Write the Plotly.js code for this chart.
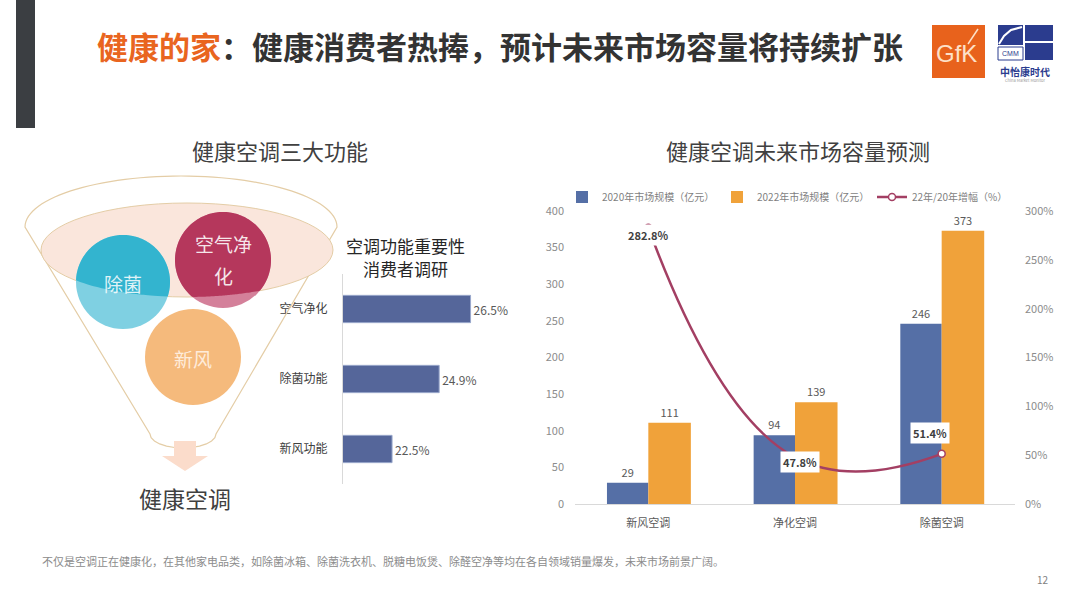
<!DOCTYPE html>
<html>
<head>
<meta charset="utf-8">
<script src="https://cdn.plot.ly/plotly-3.0.1.min.js"></script>
<style>
  html, body { margin: 0; padding: 0; background: #ffffff; }
  #chart { width: 1080px; height: 608px; }
</style>
</head>
<body>
<div id="chart"></div>
<script>
// ---------- data ----------
const surveyCats = ['空气净化', '除菌功能', '新风功能'];
const surveyVals = [26.5, 24.9, 22.5];

const marketCats = ['新风空调', '净化空调', '除菌空调'];
const size2020 = [29, 94, 246];
const size2022 = [111, 139, 373];
const growthPct = [282.8, 47.8, 51.4];

const seriesNames = ['2020年市场规模（亿元）', '2022年市场规模（亿元）', '22年/20年增幅（%）'];
const yLeftTicks = [0, 50, 100, 150, 200, 250, 300, 350, 400];
const yRightTicks = [0, 50, 100, 150, 200, 250, 300];
const yRightTickText = ['0%', '50%', '100%', '150%', '200%', '250%', '300%'];

// ---------- helpers (pixel -> paper) ----------
const W = 1080, H = 608;
const X = p => p / W;
const Y = p => 1 - p / H;
const FONT = '"Noto Sans CJK SC", "Noto Sans", sans-serif';

function pathFrom(points, close) {
  let s = '';
  points.forEach((p, i) => { s += (i === 0 ? 'M' : 'L') + X(p[0]).toFixed(5) + ',' + Y(p[1]).toFixed(5); });
  return s + (close ? 'Z' : '');
}

// funnel geometry (decoration)
const outer = { cx: 181, cy: 227, rx: 156, ry: 51 };
const rim = { cx: 187, cy: 250, rx: 146, ry: 47 };
const bubbles = [
  { cx: 123, cy: 282, r: 47, light: '#7fd0e2', dark: '#33b4cf', label: ['除菌'], txt: 'rgba(255,255,255,0.85)' },
  { cx: 223, cy: 260, r: 48, light: '#d4809a', dark: '#b5375c', label: ['空气净', '化'], txt: 'rgba(255,255,255,0.88)' },
  { cx: 193, cy: 357, r: 48, light: '#f5ba7c', dark: null, label: ['新风'], txt: 'rgba(255,240,225,0.95)' }
];

function intersectionPoly(b, e) {
  const pts = [];
  for (let i = 0; i < 180; i++) {
    const t = i / 180 * Math.PI * 2;
    const dx = Math.cos(t), dy = Math.sin(t);
    const px = b.cx - e.cx, py = b.cy - e.cy;
    const a = (dx / e.rx) ** 2 + (dy / e.ry) ** 2;
    const bb = 2 * (px * dx / (e.rx * e.rx) + py * dy / (e.ry * e.ry));
    const c = (px / e.rx) ** 2 + (py / e.ry) ** 2 - 1;
    const tt = (-bb + Math.sqrt(bb * bb - 4 * a * c)) / (2 * a);
    const r = Math.min(b.r, tt);
    pts.push([b.cx + r * dx, b.cy + r * dy]);
  }
  return pts;
}

const shapes = [];
// left dark bar
shapes.push({ type: 'rect', xref: 'paper', yref: 'paper', x0: X(16), x1: X(35), y0: Y(0), y1: Y(128),
  fillcolor: '#3b3e42', line: { width: 0 } });

// funnel outline
(function () {
  const pts = [];
  for (let i = 0; i <= 60; i++) {
    const t = Math.PI - i / 60 * Math.PI;
    pts.push([outer.cx + outer.rx * Math.cos(t), outer.cy - outer.ry * Math.sin(t)]);
  }
  pts.push([216, 434]);
  for (let i = 1; i < 12; i++) {
    const t = i / 12 * Math.PI;
    pts.push([183 + 33 * Math.cos(t), 434 + 14 * Math.sin(t)]);
  }
  pts.push([150, 434]);
  shapes.push({ type: 'path', xref: 'paper', yref: 'paper', path: pathFrom(pts, true),
    fillcolor: 'rgba(0,0,0,0)', line: { color: '#e4cda6', width: 1.2 } });
})();
// rim ellipse
shapes.push({ type: 'circle', xref: 'paper', yref: 'paper',
  x0: X(rim.cx - rim.rx), x1: X(rim.cx + rim.rx), y0: Y(rim.cy + rim.ry), y1: Y(rim.cy - rim.ry),
  fillcolor: '#fae6dc', line: { color: '#e4cda6', width: 1 } });
// bubbles
bubbles.forEach(b => {
  shapes.push({ type: 'circle', xref: 'paper', yref: 'paper',
    x0: X(b.cx - b.r), x1: X(b.cx + b.r), y0: Y(b.cy + b.r), y1: Y(b.cy - b.r),
    fillcolor: b.light, line: { width: 0 } });
  if (b.dark) {
    shapes.push({ type: 'path', xref: 'paper', yref: 'paper', path: pathFrom(intersectionPoly(b, rim), true),
      fillcolor: b.dark, line: { width: 0 } });
  }
});
// arrow
shapes.push({ type: 'path', xref: 'paper', yref: 'paper',
  path: pathFrom([[174, 441], [196, 441], [196, 456], [208, 456], [185, 471], [162, 456], [174, 456]], true),
  fillcolor: '#fbdccb', line: { width: 0 } });

// logos
shapes.push({ type: 'rect', xref: 'paper', yref: 'paper', x0: X(932), x1: X(985), y0: Y(78), y1: Y(25),
  fillcolor: '#e8621c', line: { width: 0 } });
shapes.push({ type: 'path', xref: 'paper', yref: 'paper',
  path: pathFrom([[968, 44], [978, 29]], false), line: { color: '#fde0c8', width: 1.5 } });
shapes.push({ type: 'rect', xref: 'paper', yref: 'paper', x0: X(998), x1: X(1023), y0: Y(45), y1: Y(25),
  fillcolor: '#2b3c8e', line: { width: 0 } });
shapes.push({ type: 'path', xref: 'paper', yref: 'paper',
  path: pathFrom([[999, 44], [1004, 36], [1011, 30], [1022, 27]], false), line: { color: '#ffffff', width: 2 } });
shapes.push({ type: 'rect', xref: 'paper', yref: 'paper', x0: X(1025), x1: X(1053), y0: Y(41), y1: Y(25),
  fillcolor: '#2b3c8e', line: { width: 0 } });
shapes.push({ type: 'rect', xref: 'paper', yref: 'paper', x0: X(1025), x1: X(1053), y0: Y(60), y1: Y(43),
  fillcolor: '#2b3c8e', line: { width: 0 } });
shapes.push({ type: 'rect', xref: 'paper', yref: 'paper', x0: X(998), x1: X(1023), y0: Y(60), y1: Y(47),
  fillcolor: '#ffffff', line: { color: '#2b3c8e', width: 1 } });

// ---------- annotations ----------
const ann = [];
function txt(x, y, text, size, color, extra) {
  ann.push(Object.assign({ xref: 'paper', yref: 'paper', x: X(x), y: Y(y), text: text, showarrow: false,
    xanchor: 'center', yanchor: 'middle', font: { family: FONT, size: size, color: color } }, extra || {}));
}
txt(95, 45, '<b><span style="color:#e9651f">健康的家</span>：健康消费者热捧，预计未来市场容量将持续扩张</b>', 31, '#333333', { xanchor: 'left' });
txt(956, 54, 'GfK', 24, '#fde0c8', { font: { family: '"Liberation Sans", Arial, sans-serif', size: 24, color: '#fde0c8' } });
txt(1010, 54, 'CMM', 7, '#2b3c8e', { font: { family: '"Liberation Sans", Arial, sans-serif', size: 7, color: '#2b3c8e' } });
txt(1025, 71, '<b>中怡康时代</b>', 10, '#2b3c8e');
txt(1025, 80, 'China Market Monitor', 4, '#9a9a9a');

txt(280, 150, '健康空调三大功能', 22, '#404040');
txt(798, 150, '健康空调未来市场容量预测', 22, '#404040');
txt(405, 246, '空调功能重要性', 17, '#262626');
txt(405, 269, '消费者调研', 17, '#262626');
txt(185, 498, '健康空调', 23, '#404040');
bubbles.forEach(b => {
  if (b.label.length === 1) {
    txt(b.cx, b.cy + 1, b.label[0], 19, b.txt);
  } else {
    txt(b.cx, b.cy - 17, b.label[0], 19, b.txt);
    txt(b.cx, b.cy + 15, b.label[1], 19, b.txt);
  }
});
txt(40, 561, '不仅是空调正在健康化，在其他家电品类，如除菌冰箱、除菌洗衣机、脱糖电饭煲、除醛空净等均在各自领域销量爆发，未来市场前景广阔。', 11, '#8c8c8c', { xanchor: 'left' });
txt(1043, 579, '12', 10, '#7f7f7f');

// growth labels (data-driven, positioned via axes)
const growthLabelShift = [[0, -7], [5, -5], [-12, 21]];
growthPct.forEach((v, i) => {
  ann.push({ xref: 'x2', yref: 'y3', x: marketCats[i], y: v, text: '<b>' + v.toFixed(1) + '%</b>',
    showarrow: false, bgcolor: '#ffffff', borderpad: 2,
    xshift: growthLabelShift[i][0], yshift: growthLabelShift[i][1],
    font: { family: FONT, size: 11, color: '#404040' } });
});

// ---------- traces ----------
const LINE_COLOR = '#a33f63';
const traces = [
  {
    type: 'bar', orientation: 'h', x: surveyVals, y: surveyCats, xaxis: 'x', yaxis: 'y',
    width: 0.39, showlegend: false,
    marker: { color: '#55669a', line: { color: '#9aa8cc', width: 1 } },
    text: surveyVals.map(v => v.toFixed(1) + '%'), textposition: 'outside', cliponaxis: false,
    textfont: { family: FONT, size: 12, color: '#595959' }, hoverinfo: 'skip'
  },
  {
    type: 'bar', name: seriesNames[0], x: marketCats, y: size2020, xaxis: 'x2', yaxis: 'y2',
    width: 0.282, offset: -0.282,
    marker: { color: '#556fa6' },
    text: size2020.map(String), textposition: 'outside', cliponaxis: false,
    textfont: { family: FONT, size: 11, color: '#595959' }, hoverinfo: 'skip'
  },
  {
    type: 'bar', name: seriesNames[1], x: marketCats, y: size2022, xaxis: 'x2', yaxis: 'y2',
    width: 0.29, offset: 0,
    marker: { color: '#f0a23a' },
    text: size2022.map(String), textposition: 'outside', cliponaxis: false,
    textfont: { family: FONT, size: 11, color: '#595959' }, hoverinfo: 'skip'
  },
  {
    type: 'scatter', mode: 'lines+markers', name: seriesNames[2], x: marketCats, y: growthPct,
    xaxis: 'x2', yaxis: 'y3', cliponaxis: false,
    line: { color: LINE_COLOR, width: 2.5, shape: 'spline', smoothing: 1.3 },
    marker: { size: 7, color: '#ffffff', line: { color: LINE_COLOR, width: 1.5 } },
    hoverinfo: 'skip'
  }
];

const tickFont = { family: FONT, size: 11, color: '#8c8c8c' };
const layout = {
  width: W, height: H,
  margin: { l: 0, r: 0, t: 0, b: 0, pad: 0 },
  paper_bgcolor: '#ffffff', plot_bgcolor: 'rgba(0,0,0,0)',
  barmode: 'overlay',
  hovermode: false,
  font: { family: FONT },
  showlegend: true,
  legend: {
    orientation: 'h', x: X(562), y: Y(197), xanchor: 'left', yanchor: 'middle',
    font: { family: FONT, size: 10, color: '#7f7f7f' }, itemwidth: 30,
    entrywidthmode: 'pixels', entrywidth: 110,
    bgcolor: 'rgba(0,0,0,0)', traceorder: 'normal'
  },
  xaxis: {
    domain: [X(343), X(500)], range: [20, 28], visible: false, anchor: 'y', fixedrange: true
  },
  yaxis: {
    domain: [Y(484), Y(274)], type: 'category', categoryorder: 'array', categoryarray: surveyCats,
    autorange: 'reversed', anchor: 'x', showline: true, linecolor: '#d9d9d9', linewidth: 1,
    showgrid: false, zeroline: false, ticks: '', ticklabelstandoff: 12,
    tickfont: { family: FONT, size: 12, color: '#404040' }, fixedrange: true
  },
  xaxis2: {
    domain: [X(575), X(1015)], anchor: 'y2', type: 'category', categoryorder: 'array', categoryarray: marketCats,
    showline: true, linecolor: '#d9d9d9', linewidth: 1, showgrid: false, zeroline: false, ticks: '',
    ticklabelstandoff: 9, tickfont: { family: FONT, size: 11, color: '#595959' }, fixedrange: true
  },
  yaxis2: {
    domain: [Y(504), Y(211)], anchor: 'x2', range: [0, 400], tickmode: 'array', tickvals: yLeftTicks,
    showgrid: false, zeroline: false, showline: false, ticks: '', ticklabelstandoff: 10,
    tickfont: tickFont, fixedrange: true
  },
  yaxis3: {
    overlaying: 'y2', side: 'right', anchor: 'x2', range: [0, 300], tickmode: 'array',
    tickvals: yRightTicks, ticktext: yRightTickText,
    showgrid: false, zeroline: false, showline: false, ticks: '', ticklabelstandoff: 9,
    tickfont: tickFont, fixedrange: true
  },
  shapes: shapes,
  annotations: ann
};

Plotly.newPlot('chart', traces, layout, { staticPlot: true, displayModeBar: false });
</script>
</body>
</html>
